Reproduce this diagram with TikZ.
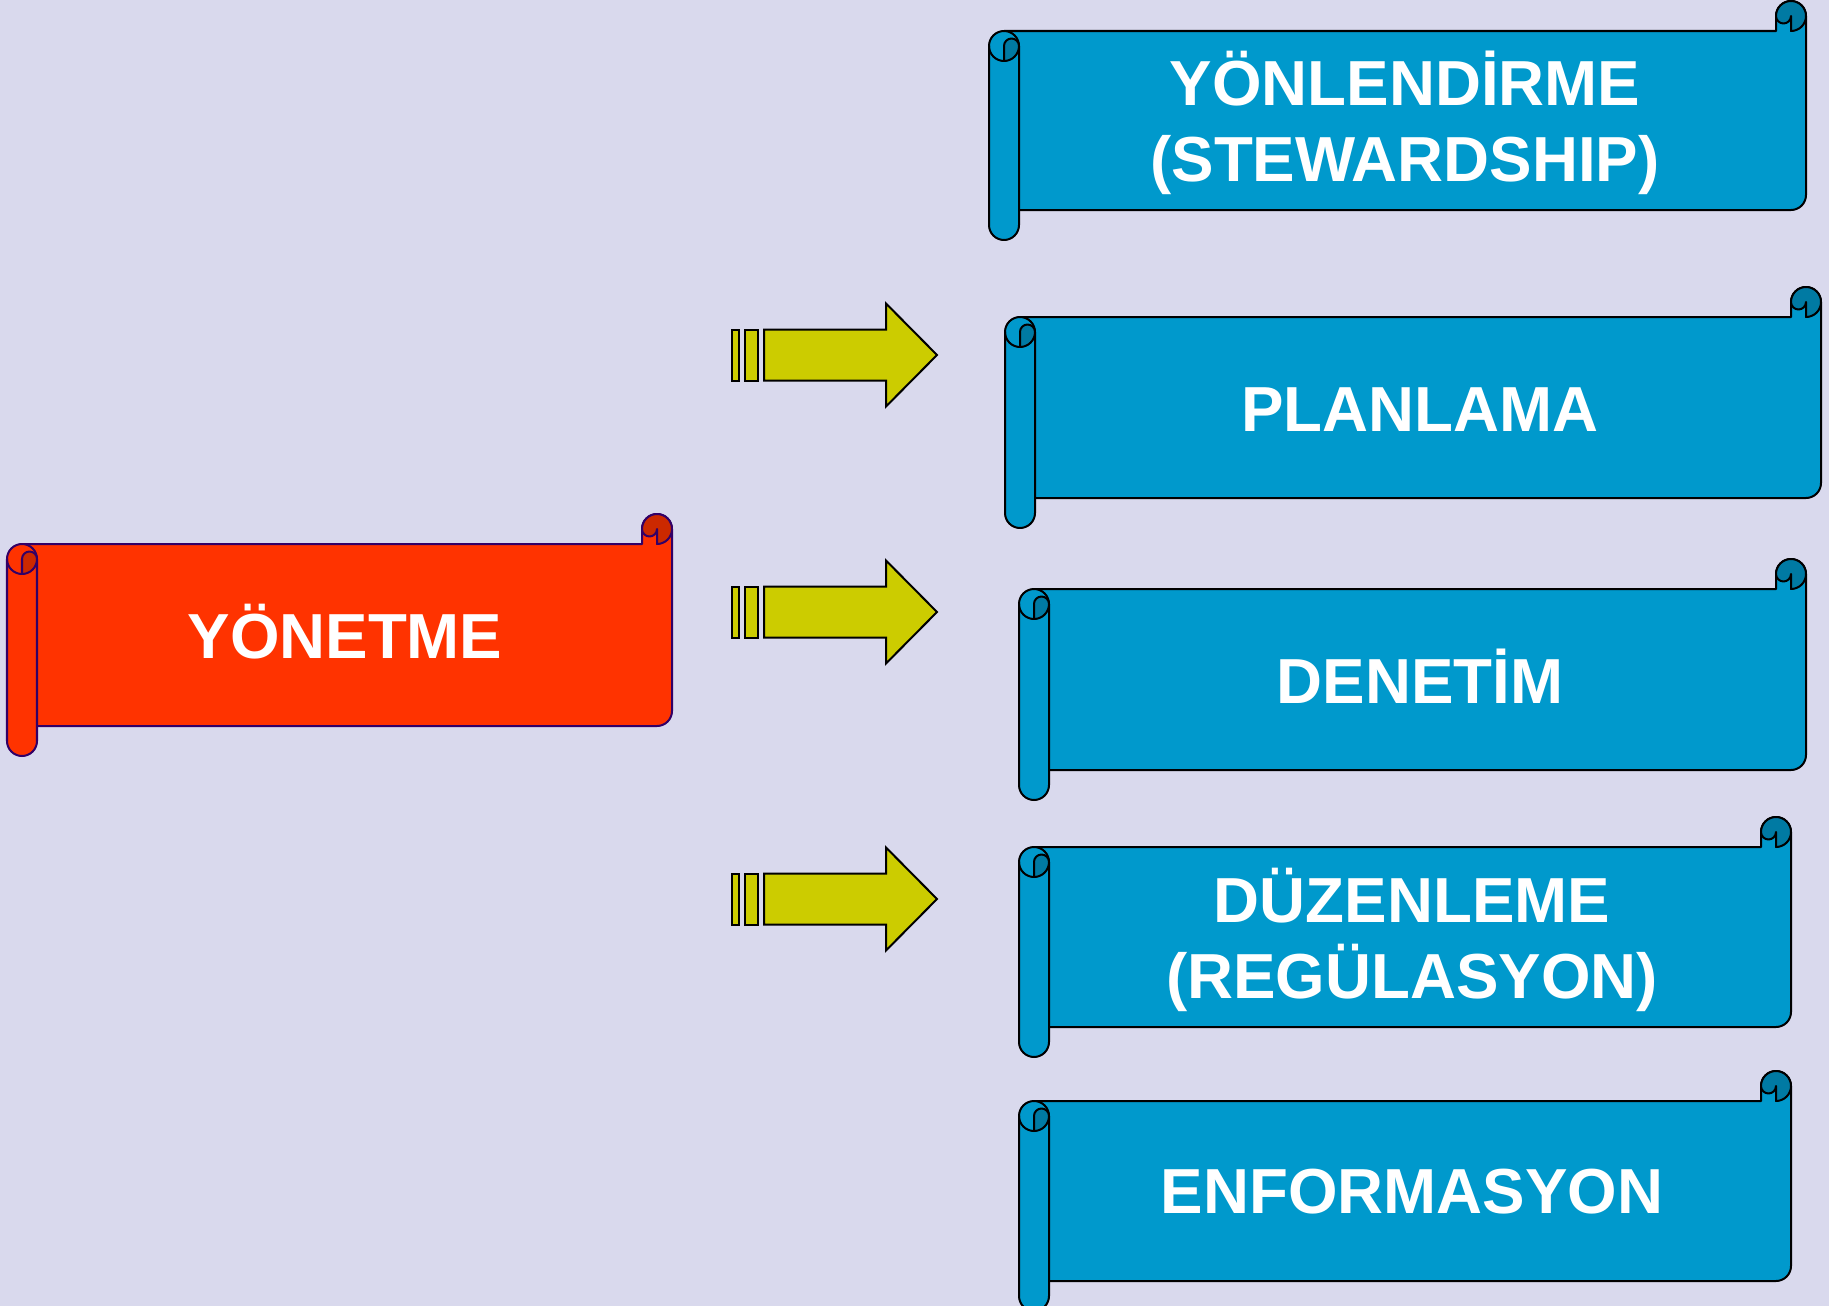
\documentclass[tikz,border=0pt]{standalone}
\usepackage{xcolor}
\usepackage{fontspec}
\setsansfont{Liberation Sans}
\usepackage{tikz}
\usetikzlibrary{calc,positioning}

\definecolor{bgpanel}{RGB}{217,217,237}
\definecolor{redbody}{RGB}{255,51,0}
\definecolor{redcurl}{RGB}{204,41,0}
\definecolor{redline}{RGB}{51,0,102}
\definecolor{bluebody}{RGB}{0,153,204}
\definecolor{bluecurl}{RGB}{0,122,163}
\definecolor{arrowfill}{RGB}{204,204,0}

\newcommand{\scrollstrut}{\rule[-0.24em]{0pt}{1.19em}}

\tikzset{
  scrolledge/.style={draw=#1, line width=0.02cm, line join=round},
  arrowedge/.style={draw=black, fill=arrowfill, line width=0.02cm},
  scrolltext/.style={text=white, inner sep=0pt, align=center,
    font=\sffamily\bfseries\fontsize{18.1pt}{21.7pt}\selectfont},
  pics/scroll/.style n args={5}{code={
    % #1 width, #2 height, #3 body, #4 curl, #5 outline
    \path[scrolledge=#5, fill=#3] (15,-30) -- (#1-30,-30) -- (#1-30,-15)
      arc[start angle=180, end angle=0, radius=15] -- (#1,-#2+45)
      arc[start angle=0, end angle=-90, radius=15] -- (15,-#2+30) -- cycle;
    % top right curl
    \path[scrolledge=#5, fill=#4] (#1-30,-15)
      arc[start angle=180, end angle=0, radius=15]
      arc[start angle=0, end angle=-90, radius=15] -- (#1-15,-15)
      arc[start angle=0, end angle=-180, radius=7.5] -- cycle;
    % left roll
    \path[scrolledge=#5, fill=#3] (0,-45)
      arc[start angle=180, end angle=0, radius=15] -- (30,-#2+15)
      arc[start angle=0, end angle=-180, radius=15] -- cycle;
    \path[scrolledge=#5, fill=#4] (15,-60) -- (15,-45)
      arc[start angle=180, end angle=0, radius=7.5]
      arc[start angle=0, end angle=-90, radius=15] -- cycle;
    \path[scrolledge=#5] (0,-45) arc[start angle=180, end angle=270, radius=15];
  }},
  pics/fatarrow/.style={code={
    \path[arrowedge] (0,-25.5) rectangle (7,25.5);
    \path[arrowedge] (13,-25.5) rectangle (26,25.5);
    \path[arrowedge] (32,-25.5) -- (154,-25.5) -- (154,-51.5) -- (205,0)
      -- (154,51.5) -- (154,25.5) -- (32,25.5) -- cycle;
  }},
}

\begin{document}
\begin{tikzpicture}[x=0.01cm, y=0.01cm]
    % Page
    \useasboundingbox (0,0) rectangle (1829,-1306);
    \clip (0,0) rectangle (1829,-1306);
    \fill[bgpanel] (0,0) rectangle (1829,-1306);

    % Main scroll
    \pic at (7,-514) {scroll={665}{242}{redbody}{redcurl}{redline}};
    \node[scrolltext] (yonetme) at (345,-636) {\scrollstrut YÖNETME};

    % Arrows
    \pic at (732,-355) {fatarrow};
    \pic at (732,-612) {fatarrow};
    \pic at (732,-899) {fatarrow};

    % Right scrolls
    \pic at (989,-1) {scroll={817}{239}{bluebody}{bluecurl}{black}};
    \pic at (1005,-287) {scroll={816}{241}{bluebody}{bluecurl}{black}};
    \pic at (1019,-559) {scroll={787}{241}{bluebody}{bluecurl}{black}};
    \pic at (1019,-817) {scroll={772}{240}{bluebody}{bluecurl}{black}};
    \pic at (1019,-1071) {scroll={772}{240}{bluebody}{bluecurl}{black}};

    \node[scrolltext] (yonlendirme) at (1405,-121)
      {\scrollstrut YÖNLENDİRME\\\scrollstrut (STEWARDSHIP)};
    \node[scrolltext] (planlama) at (1420,-409) {\scrollstrut PLANLAMA};
    \node[scrolltext] (denetim) at (1420,-681) {\scrollstrut DENETİM};
    \node[scrolltext] (duzenleme) at (1412,-938)
      {\scrollstrut DÜZENLEME\\\scrollstrut (REGÜLASYON)};
    \node[scrolltext] (enformasyon) at (1412,-1191) {\scrollstrut ENFORMASYON};
\end{tikzpicture}
\end{document}
